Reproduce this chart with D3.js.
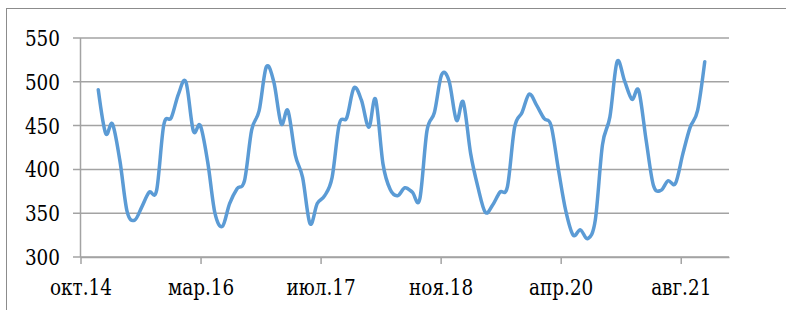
<!DOCTYPE html>
<html>
<head>
<meta charset="utf-8">
<script src="https://cdn.jsdelivr.net/npm/d3@7"></script>
<style>
  html, body { margin: 0; padding: 0; background: #ffffff; }
  svg { display: block; }
</style>
</head>
<body>
<svg id="chart" width="786" height="310"></svg>
<script>
// ---- data ----
// monthly observations, first month January 2015
const firstMonth = "2015-01-01";
const values = [
  491, 441, 452, 410, 352, 342, 357, 374, 376, 451, 459, 486,   // 2015
  500, 444, 450, 408, 350, 335, 361, 378, 387, 445, 467, 517,   // 2016
  500, 452, 467, 416, 391, 338, 361, 370, 391, 452, 459, 493,   // 2017
  479, 448, 480, 406, 377, 370, 379, 374, 366, 444, 465, 508,   // 2018
  501, 456, 477, 418, 380, 351, 359, 374, 380, 448, 465, 486,   // 2019
  473, 458, 450, 399, 353, 325, 331, 321, 342, 428, 460, 523,   // 2020
  501, 480, 490, 433, 382, 376, 387, 384, 418, 448, 467, 523    // 2021
];
// x-axis: date axis, one label every 500 days
const tickStart = "2014-10-19";
const tickStepDays = 500;
const tickLabels = ["окт.14", "мар.16", "июл.17", "ноя.18", "апр.20", "авг.21"];
const axisSpanDays = 2701;
const yTicks = [300, 350, 400, 450, 500, 550];

// ---- layout ----
const FONT = "DejaVu Serif";
const FONT_SIZE = 23;
const SQUEEZE = "scale(0.8,1)";
const svg = d3.select("#chart");
const plot = { left: 80.5, right: 729, top: 38, bottom: 257 };

const t0 = d3.utcParse("%Y-%m-%d")(tickStart);
const m0 = d3.utcParse("%Y-%m-%d")(firstMonth);
const dates = values.map((v, i) => d3.utcMonth.offset(m0, i));
const tickDates = tickLabels.map((l, i) => d3.utcDay.offset(t0, i * tickStepDays));

const x = d3.scaleUtc()
  .domain([t0, d3.utcDay.offset(t0, axisSpanDays)])
  .range([plot.left, plot.right]);
const y = d3.scaleLinear().domain([300, 550]).range([plot.bottom, plot.top]);

// outer chart border
svg.append("rect")
  .attr("x", 6.5).attr("y", 8.5)
  .attr("width", 800).attr("height", 320)
  .attr("fill", "none").attr("stroke", "#8c8c8c").attr("stroke-width", 1);

// gridlines with left tick stubs
svg.append("g").selectAll("line").data(yTicks).join("line")
  .attr("x1", plot.left - 7.5).attr("x2", plot.right)
  .attr("y1", d => y(d)).attr("y2", d => y(d))
  .attr("stroke", "#a3a3a3").attr("stroke-width", 1.5);

// y axis line
svg.append("line")
  .attr("x1", plot.left).attr("x2", plot.left)
  .attr("y1", plot.top).attr("y2", plot.bottom)
  .attr("stroke", "#a3a3a3").attr("stroke-width", 1.5);

// x axis
const xAxis = d3.axisBottom(x)
  .tickValues(tickDates)
  .tickFormat((d, i) => tickLabels[i])
  .tickSizeInner(7).tickSizeOuter(0).tickPadding(12);
const gx = svg.append("g").attr("transform", `translate(0,${plot.bottom})`).call(xAxis);
gx.attr("font-family", null).attr("font-size", null);
gx.select(".domain").attr("stroke", "#a3a3a3").attr("stroke-width", 1.5);
gx.selectAll(".tick line").attr("stroke", "#a3a3a3").attr("stroke-width", 1.5);
gx.selectAll(".tick text")
  .attr("font-family", FONT)
  .attr("font-size", FONT_SIZE)
  .attr("fill", "#000")
  .attr("dy", null).attr("y", 38.5)
  .attr("transform", SQUEEZE);

// y labels
svg.append("g").selectAll("g").data(yTicks).join("g")
  .attr("transform", d => `translate(60,${y(d) + 8})`)
  .append("text")
  .attr("text-anchor", "end")
  .attr("font-family", FONT)
  .attr("font-size", FONT_SIZE)
  .attr("fill", "#000")
  .attr("transform", SQUEEZE)
  .text(d => d);

// the line
const line = d3.line()
  .x((d, i) => x(dates[i]))
  .y(d => y(d))
  .curve(d3.curveCardinal.tension(0));

svg.append("path")
  .datum(values)
  .attr("d", line)
  .attr("fill", "none")
  .attr("stroke", "#5b9bd5")
  .attr("stroke-width", 3.5)
  .attr("stroke-linejoin", "round")
  .attr("stroke-linecap", "round");
</script>
</body>
</html>
